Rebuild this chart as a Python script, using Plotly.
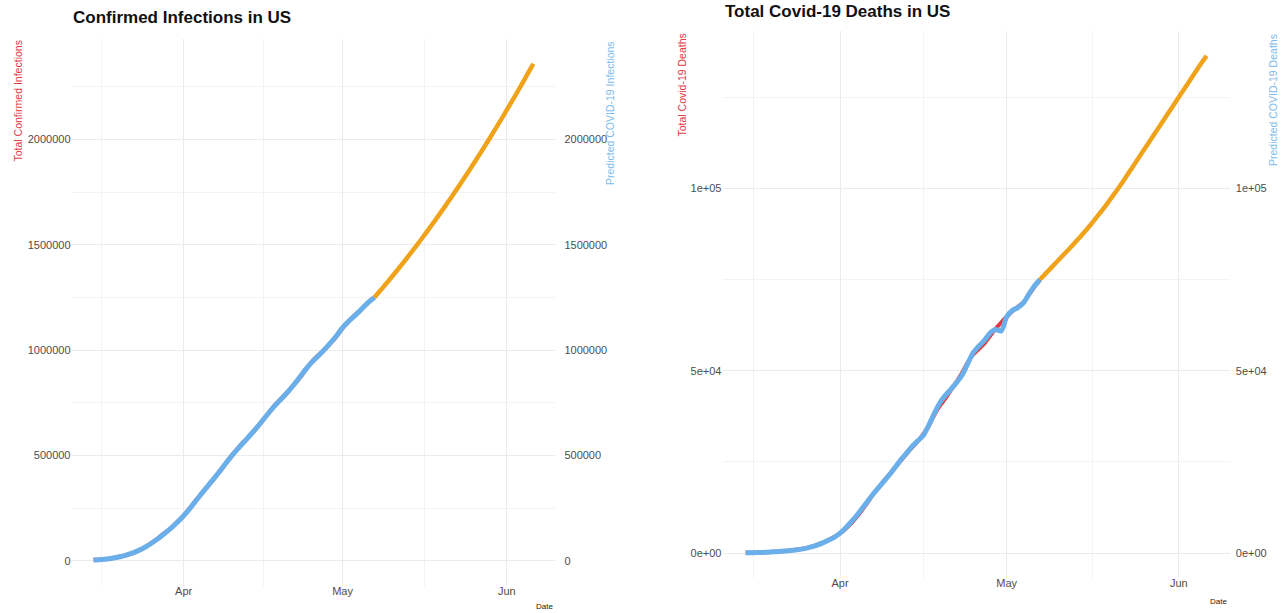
import pandas as pd
import plotly.graph_objects as go

# ---------------- data ----------------
start_obs = "2020-03-15"
start_pred = "2020-05-07"

conf_actual = [
    3680, 4663, 6411, 9197, 13779, 19367, 24192, 33592, 43505, 53938, 68572, 85570,
    102900, 123966, 142631, 163800, 188461,
    213242, 243622, 275367, 308650, 336802, 366317, 397121, 428654, 462780, 496535,
    526396, 555313, 580619, 607670, 636350, 667592, 699706, 732197, 759086, 784326,
    811865, 840351, 869170, 905358, 938154, 965785, 988197, 1012582, 1039909, 1069424,
    1103461, 1132539, 1158040, 1180375, 1204351, 1229331, 1250000,
]
conf_fit = [
    3000, 4500, 6500, 9500, 13500, 18500, 25000, 33000, 43000, 54500, 68000, 84000,
    101500, 121000, 141500, 163000, 187000,
    213000, 242000, 274500, 306000, 337500, 368000, 399000, 431000, 463500, 495000,
    525000, 553000, 580000, 608500, 638000, 669000, 700000, 730000, 757000, 783000,
    811000, 842000, 874000, 907000, 937000, 962000, 987000, 1014000, 1042000, 1073000,
    1106000, 1133000, 1156000, 1180000, 1206000, 1230000, 1250000,
]
conf_pred = [
    1250000, 1279000, 1308600, 1338700, 1369400, 1400700, 1432400, 1464800, 1497600,
    1531000, 1565000, 1599500, 1634600, 1670200, 1706300, 1743100, 1780300, 1818100,
    1856500, 1895400, 1934800, 1974800, 2015300, 2056400, 2098100, 2140300, 2183000,
    2226300, 2270100, 2314500, 2359400,
]

death_actual = [
    100, 130, 170, 220, 290, 380, 480, 600, 750, 930, 1150, 1450, 1850, 2400, 3000,
    3700, 4500,
    5400, 6700, 8200, 9900, 11900, 14000, 16200, 18100, 20000, 21800, 23600, 25500,
    27300, 29000, 30700, 32600, 35000, 38000, 40500, 42500, 44800, 47000, 49500, 52300,
    54500, 56000, 57500, 59500, 61500, 63200,
    64800, 66300, 67500, 68700, 70800, 73000, 75000,
]
death_fit = [
    100, 120, 160, 210, 280, 360, 460, 580, 720, 900, 1120, 1400, 1800, 2300, 2900,
    3600, 4400,
    5500, 6900, 8600, 10300, 12300, 14300, 16300, 18100, 19900, 21700, 23700, 25700,
    27500, 29300, 30800, 32300, 35200, 38400, 41300, 43300, 45000, 46800, 48900, 52000,
    55000, 56800, 58300, 60300, 61300, 60900,
    64800, 66500, 67300, 68600, 71000, 73200, 75000,
]
death_pred = [
    75000, 76600, 78200, 79800, 81400, 83000, 84600, 86300, 88000, 89800, 91700, 93600,
    95600, 97700, 99800, 102000, 104300, 106600, 108900, 111200, 113500, 115800,
    118100, 120400, 122700, 125000, 127300, 129600, 131900, 134200, 136300,
]

obs_dates = pd.date_range(start_obs, periods=len(conf_actual), freq="D")
pred_dates = pd.date_range(start_pred, periods=len(conf_pred), freq="D")

x_major = ["2020-04-01", "2020-05-01", "2020-06-01"]
x_major_text = ["Apr", "May", "Jun"]
x_minor = ["2020-03-16 12:00", "2020-04-16", "2020-05-16 12:00"]
x_range = ["2020-03-10 20:00", "2020-06-10 04:00"]

conf_major = [0, 500000, 1000000, 1500000, 2000000]
conf_major_text = ["0", "500000", "1000000", "1500000", "2000000"]
conf_minor = [250000, 750000, 1250000, 1750000, 2250000]
conf_range = [-118000, 2477000]

death_major = [0, 50000, 100000]
death_major_text = ["0e+00", "5e+04", "1e+05"]
death_minor = [25000, 75000, 125000]
death_range = [-6800, 143100]

# ---------------- style ----------------
W, H = 1286, 613
FONT = "Liberation Sans Narrow, Arial Narrow, Liberation Sans, Arial, sans-serif"
RED = "#e0393e"
BLUE = "#6aaeea"
ORANGE = "#f0a21a"
GRID = "#ebebeb"
GRID_MINOR = "#f3f3f3"
TICK_COL = "#4d4d4d"


def px_x(p):
    return p / W


def px_y(p):
    return 1 - p / H


fig = go.Figure()

LINE = dict(shape="spline", smoothing=0.8)

# Left panel (confirmed)
fig.add_trace(go.Scatter(x=obs_dates, y=conf_actual, mode="lines",
                         line=dict(color=RED, width=4, **LINE), xaxis="x", yaxis="y",
                         showlegend=False, hoverinfo="skip"))
fig.add_trace(go.Scatter(x=obs_dates, y=conf_fit, mode="lines",
                         line=dict(color=BLUE, width=5, **LINE), xaxis="x", yaxis="y3",
                         showlegend=False, hoverinfo="skip"))
fig.add_trace(go.Scatter(x=pred_dates, y=conf_pred, mode="lines",
                         line=dict(color=ORANGE, width=4.5, **LINE), xaxis="x", yaxis="y3",
                         showlegend=False, hoverinfo="skip"))

# Right panel (deaths)
fig.add_trace(go.Scatter(x=obs_dates, y=death_actual, mode="lines",
                         line=dict(color=RED, width=4, **LINE), xaxis="x2", yaxis="y2",
                         showlegend=False, hoverinfo="skip"))
fig.add_trace(go.Scatter(x=obs_dates, y=death_fit, mode="lines",
                         line=dict(color=BLUE, width=5, **LINE), xaxis="x2", yaxis="y4",
                         showlegend=False, hoverinfo="skip"))
fig.add_trace(go.Scatter(x=pred_dates, y=death_pred, mode="lines",
                         line=dict(color=ORANGE, width=4.5, **LINE), xaxis="x2", yaxis="y4",
                         showlegend=False, hoverinfo="skip"))

tickfont = dict(family=FONT, size=11, color=TICK_COL)


def xaxis_cfg(domain, anchor):
    return dict(domain=domain, anchor=anchor, type="date", range=x_range,
                tickmode="array", tickvals=x_major, ticktext=x_major_text,
                showgrid=True, gridcolor=GRID, gridwidth=1, zeroline=False,
                showline=False, ticks="", tickfont=tickfont, ticklabelstandoff=-3,
                minor=dict(tickmode="array", tickvals=x_minor, showgrid=True,
                           gridcolor=GRID_MINOR, gridwidth=1))


def yaxis_cfg(domain, anchor, rng, major, major_text, minor, side="left",
              overlaying=None, standoff=8):
    d = dict(domain=domain, anchor=anchor, range=rng, side=side,
             tickmode="array", tickvals=major, ticktext=major_text,
             zeroline=False, showline=False, ticks="", tickfont=tickfont)
    if overlaying:
        d.update(overlaying=overlaying, showgrid=False, ticklabelstandoff=standoff)
    else:
        d.update(showgrid=True, gridcolor=GRID, gridwidth=1,
                 minor=dict(tickmode="array", tickvals=minor, showgrid=True,
                            gridcolor=GRID_MINOR, gridwidth=1))
    return d


left_x = [px_x(71.5), px_x(555.4)]
left_y = [px_y(585.5), px_y(39)]
right_x = [px_x(722.5), px_x(1229.8)]
right_y = [px_y(578), px_y(31)]

fig.update_layout(
    width=W, height=H,
    margin=dict(l=0, r=0, t=0, b=0),
    paper_bgcolor="white", plot_bgcolor="white",
    font=dict(family=FONT),
    xaxis=xaxis_cfg(left_x, "y"),
    xaxis2=xaxis_cfg(right_x, "y2"),
    yaxis=yaxis_cfg(left_y, "x", conf_range, conf_major, conf_major_text, conf_minor),
    yaxis3=yaxis_cfg(left_y, "x", conf_range, conf_major, conf_major_text, conf_minor,
                     side="right", overlaying="y", standoff=8),
    yaxis2=yaxis_cfg(right_y, "x2", death_range, death_major, death_major_text,
                     death_minor),
    yaxis4=yaxis_cfg(right_y, "x2", death_range, death_major, death_major_text,
                     death_minor, side="right", overlaying="y2", standoff=5),
)

TITLE_FONT = dict(family=FONT, size=17, color="#111")
AXT = 10.5
annotations = [
    dict(text="<b>Confirmed Infections in US</b>", x=px_x(71), y=px_y(18),
         xanchor="left", yanchor="middle", font=TITLE_FONT),
    dict(text="<b>Total Covid-19 Deaths in US</b>", x=px_x(723), y=px_y(12),
         xanchor="left", yanchor="middle", font=TITLE_FONT),
    dict(text="Total Confirmed Infections", x=px_x(17), y=px_y(39), textangle=-90,
         xanchor="center", yanchor="top", font=dict(family=FONT, size=AXT, color=RED)),
    dict(text="Predicted COVID-19 Infections", x=px_x(610), y=px_y(39), textangle=-90,
         xanchor="center", yanchor="top", font=dict(family=FONT, size=AXT, color="#7dbbea")),
    dict(text="Total Covid-19 Deaths", x=px_x(681), y=px_y(32), textangle=-90,
         xanchor="center", yanchor="top", font=dict(family=FONT, size=AXT, color=RED)),
    dict(text="Predicted COVID-19 Deaths", x=px_x(1273), y=px_y(32), textangle=-90,
         xanchor="center", yanchor="top", font=dict(family=FONT, size=AXT, color="#7dbbea")),
    dict(text="Date", x=px_x(555), y=px_y(606), xanchor="right", yanchor="middle",
         font=dict(family=FONT, size=8, color="#222")),
    dict(text="Date", x=px_x(1229), y=px_y(601), xanchor="right", yanchor="middle",
         font=dict(family=FONT, size=8, color="#222")),
]
for a in annotations:
    a.update(xref="paper", yref="paper", showarrow=False)
fig.update_layout(annotations=annotations)

fig.write_html("out.html",
               config={"displayModeBar": False},
               post_script="document.body.style.margin='0px';"
                           "document.body.style.overflow='hidden';")
